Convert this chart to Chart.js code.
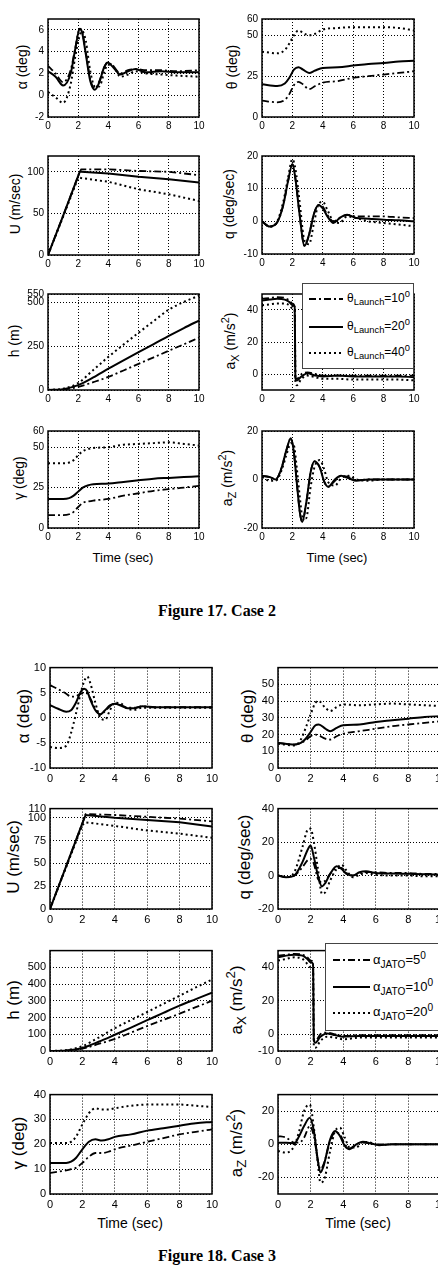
<!DOCTYPE html>
<html>
<head>
<meta charset="utf-8">
<title>Figure 17. Case 2 / Figure 18. Case 3</title>
<script src="https://cdn.jsdelivr.net/npm/chart.js@4.4.1/dist/chart.umd.min.js"></script>
<style>
  html, body { margin: 0; padding: 0; background: #fff; }
  #page { position: relative; width: 438px; height: 1284px; overflow: hidden;
          font-family: "Liberation Sans", Arial, sans-serif; font-weight: normal; color: #000; }
  #page canvas { position: absolute; }
  .ytitle { position: absolute; transform: translate(-50%, -50%) rotate(-90deg); white-space: nowrap; line-height: 1; }
  .xtitle { position: absolute; transform: translate(-50%, -50%); white-space: nowrap; line-height: 1; }
  .f17 { font-size: 14px; }
  .f18 { font-size: 17px; }
  .caption { position: absolute; transform: translate(-50%, -50%); white-space: nowrap;
             font-family: "Liberation Serif", "Times New Roman", serif; font-weight: bold; font-size: 16px; }
  .legend { position: absolute; background: #fff; border: 1px solid #444; z-index: 2; }
  .legend svg { position: absolute; }
  .legend span { position: absolute; white-space: nowrap; line-height: 1; }
  sub, sup { line-height: 0; font-size: 78%; }
</style>
</head>
<body>
<div id="page">
  <!-- figure 17 axis titles -->
  <div class="ytitle f17" style="left:22px;top:67px">α (deg)</div>
  <div class="ytitle f17" style="left:232px;top:67px">θ (deg)</div>
  <div class="ytitle f17" style="left:15px;top:204px">U (m/sec)</div>
  <div class="ytitle f17" style="left:229px;top:204px">q (deg/sec)</div>
  <div class="ytitle f17" style="left:14px;top:341px">h (m)</div>
  <div class="ytitle f17" style="left:230px;top:341px">a<sub>X</sub> (m/s<sup>2</sup>)</div>
  <div class="ytitle f17" style="left:19px;top:478px">γ (deg)</div>
  <div class="ytitle f17" style="left:227px;top:478px">a<sub>Z</sub> (m/s<sup>2</sup>)</div>
  <div class="xtitle" style="left:123px;top:557px;font-size:13px">Time (sec)</div>
  <div class="xtitle" style="left:337px;top:557px;font-size:13px">Time (sec)</div>
  <div class="caption" style="left:217px;top:611px">Figure 17. Case 2</div>

  <!-- figure 18 axis titles -->
  <div class="ytitle f18" style="left:23px;top:716px">α (deg)</div>
  <div class="ytitle f18" style="left:247px;top:716px">θ (deg)</div>
  <div class="ytitle f18" style="left:13px;top:857px">U (m/sec)</div>
  <div class="ytitle f18" style="left:244px;top:857px">q (deg/sec)</div>
  <div class="ytitle f18" style="left:13px;top:1000px">h (m)</div>
  <div class="ytitle f18" style="left:236px;top:1000px">a<sub>X</sub> (m/s<sup>2</sup>)</div>
  <div class="ytitle f18" style="left:18px;top:1143px">γ (deg)</div>
  <div class="ytitle f18" style="left:236px;top:1143px">a<sub>Z</sub> (m/s<sup>2</sup>)</div>
  <div class="xtitle" style="left:130px;top:1223px;font-size:14px">Time (sec)</div>
  <div class="xtitle" style="left:358px;top:1223px;font-size:14px">Time (sec)</div>
  <div class="caption" style="left:217px;top:1256px">Figure 18. Case 3</div>
</div>

<script>
"use strict";

// shared time axis ticks (sec)
const timeTicks = [0, 2, 4, 6, 8, 10];

// ---------- Figure 17: theta_Launch = 10 / 20 / 40 deg (A dash-dot, B solid, C dotted)
const f17LegendVals = [10, 20, 40];

const f17AlphaT = [0, 0.5, 1, 1.5, 1.8, 2.1, 2.25, 2.5, 2.8, 3.1, 3.4, 3.7, 3.95, 4.3, 4.8, 5.3, 5.8, 6.5, 7.5, 8.5, 10];
const f17AlphaA = [2.7, 2.0, 1.2, 2.3, 4.3, 6.1, 5.9, 4.0, 1.5, 0.6, 1.3, 2.5, 3.0, 2.7, 2.0, 2.3, 2.4, 2.3, 2.3, 2.2, 2.3];
const f17AlphaB = [2.2, 1.7, 0.9, 2.0, 4.2, 6.1, 5.8, 3.8, 1.3, 0.5, 1.2, 2.5, 3.0, 2.6, 1.9, 2.2, 2.4, 2.1, 2.2, 2.1, 2.1];
const f17AlphaC = [0.3, -0.2, -0.7, 1.0, 3.5, 5.5, 5.9, 5.0, 2.2, 0.8, 0.8, 2.0, 2.8, 2.7, 1.7, 1.9, 2.2, 2.0, 1.9, 1.8, 1.7];
const f17AlphaTicks = [-2, 0, 2, 4, 6];

const f17ThetaT = [0, 1, 1.5, 1.8, 2.1, 2.4, 2.7, 3.1, 3.5, 4, 5, 6, 7, 8, 9, 10];
const f17ThetaA = [10, 9, 10.5, 14, 19.5, 21.5, 20, 17, 19, 21, 22, 24, 25, 26, 27, 28];
const f17ThetaB = [20, 19, 20.5, 24, 29, 30.5, 29, 27, 28.5, 30, 30.5, 31.5, 32.5, 33, 34, 34.5];
const f17ThetaC = [40, 39, 41, 45, 50, 53, 51.5, 50, 51, 53.5, 54.5, 55, 55, 55, 54.5, 53];
const f17ThetaTicks = [0, 25, 50, 60];

const f17UT = [0, 1, 2, 2.1, 2.2, 4, 6, 8, 10];
const f17UA = [0, 47, 95, 100, 103, 103, 101, 100, 96];
const f17UB = [0, 47, 95, 100, 100, 98, 94, 91, 87];
const f17UC = [0, 46, 93, 93, 92.5, 88, 79, 73, 65];
const f17UTicks = [0, 50, 100];

const f17QT = [0, 0.5, 1, 1.4, 1.7, 2.0, 2.2, 2.45, 2.8, 3.1, 3.4, 3.7, 4.0, 4.3, 4.7, 5.1, 5.6, 6.2, 7, 8, 9, 10];
const f17QA = [0, -1.6, -0.3, 5, 12, 17.5, 13, 3, -7.5, -4, 2, 5, 4.5, 2, 0, 1, 2, 1.5, 1.5, 1.5, 1.2, 1];
const f17QB = [0, -1.6, -0.3, 5, 12, 17.5, 13, 3, -7.5, -4, 2, 5, 4, 1.5, -0.5, 1, 2, 1, 0.8, 0.5, 0.3, 0];
const f17QC = [0, -1.6, 0, 6, 13, 19, 16, 7, -6, -7, -1, 5, 6, 3.5, 0, -0.5, 1.5, 1, 0, -0.5, -1, -1.5];
const f17QTicks = [-10, 0, 10, 20];

const f17HT = [0, 1, 2, 3, 4, 5, 6, 7, 8, 9, 10];
const f17HA = [0, 3, 18, 45, 75, 112, 150, 187, 225, 262, 300];
const f17HB = [0, 5, 28, 72, 122, 170, 217, 263, 310, 355, 398];
const f17HC = [0, 8, 40, 115, 190, 260, 328, 395, 460, 505, 540];
const f17HTicks = [0, 250, 500, 550];

const f17AxT = [0, 0.5, 1, 1.5, 1.8, 2.0, 2.15, 2.2, 2.3, 2.6, 3.0, 3.5, 4, 5, 6, 7, 8, 9, 10];
const f17AxA = [47, 47.5, 48, 47.5, 46, 44, 42, -2, -3, 0, 1, 0, -1, -1, -1, -1, -1, -1, -1];
const f17AxB = [46, 46.5, 47, 46.5, 45, 43, 42, -3, -4, -1.5, 0.5, -1, -1.5, -1, -1.5, -1.5, -1.5, -1.5, -2];
const f17AxC = [43, 43.5, 44, 44, 43, 41, 40, -5, -7, -3, -1, -2, -3, -3, -3.5, -3.5, -3.5, -3.5, -4];
const f17AxTicks = [0, 20, 40];

const f17GammaT = [0, 1, 1.4, 1.7, 2, 2.3, 2.7, 3, 4, 5, 6, 7, 8, 9, 10];
const f17GammaA = [8, 8, 8.5, 10, 13, 15.5, 16.5, 17, 18, 20, 21.5, 23, 24, 25, 26];
const f17GammaB = [18, 18, 18.5, 20, 22.5, 25, 26.5, 27, 27.5, 28.5, 29.5, 30.5, 31, 31.5, 32];
const f17GammaC = [40, 40, 40.5, 42, 45, 47.5, 49, 49.5, 50, 51.5, 52, 52.5, 53, 52, 51];
const f17GammaTicks = [0, 25, 50, 60];

const f17AzT = [0, 0.5, 0.9, 1.3, 1.6, 1.9, 2.1, 2.3, 2.5, 2.65, 2.9, 3.2, 3.45, 3.8, 4.1, 4.35, 4.8, 5.2, 5.7, 6.2, 7, 8, 9, 10];
const f17AzA = [1.5, 1, 0.2, 5, 12, 17, 11, -2, -14, -17.5, -10, 3, 7.5, 5, -1, -3, -0.5, 1.5, 1, -0.3, 0, 0, 0, 0];
const f17AzB = [1.5, 1, 0, 5, 12, 17, 11, -2, -14, -17.5, -10, 3, 7.5, 5, -1, -3, 0, 1.5, 0.5, -0.5, 0, 0, 0, 0];
const f17AzC = [1, -0.5, -0.5, 4, 10, 15, 14, 4, -8, -15, -16, -3, 5, 8, 4, -1, -2.5, 0.5, 1.5, 0, -0.5, 0, 0, 0];
const f17AzTicks = [-20, 0, 20];

// ---------- Figure 18: alpha_JATO = 5 / 10 / 20 deg (A dash-dot, B solid, C dotted)
const f18LegendVals = [5, 10, 20];

const f18AlphaT = [0, 0.5, 1, 1.3, 1.6, 1.9, 2.1, 2.3, 2.5, 2.8, 3.1, 3.4, 3.7, 4.0, 4.4, 4.8, 5.2, 5.7, 6.5, 8, 10];
const f18AlphaA = [6.5, 5.7, 4.8, 4.2, 4.3, 4.8, 5.0, 4.8, 3.8, 1.8, 0.6, 1.3, 2.3, 2.8, 2.5, 2.0, 2.0, 2.3, 2.1, 2.1, 2.1];
const f18AlphaB = [2.5, 1.8, 1.2, 1.5, 3.0, 5.2, 5.8, 5.3, 3.5, 1.5, 0.7, 1.5, 2.5, 2.8, 2.4, 1.9, 1.9, 2.3, 2.1, 2.1, 2.1];
const f18AlphaC = [-5.8, -6.0, -5.6, -3.0, 0.8, 5.0, 7.2, 8.2, 6.8, 3.0, 0.0, -0.4, 1.5, 3.0, 2.8, 1.8, 1.6, 2.0, 2.0, 2.0, 2.0];
const f18AlphaTicks = [-10, -5, 0, 5, 10];

const f18ThetaT = [0, 1, 1.4, 1.7, 2.0, 2.3, 2.5, 2.9, 3.2, 3.6, 4, 5, 6, 7, 8, 9, 10];
const f18ThetaA = [15, 14, 15, 16.5, 19, 20, 19.5, 17.5, 17, 19, 20.5, 22, 23.5, 25, 26, 27, 28];
const f18ThetaB = [15, 14, 15, 17.5, 21.5, 25.5, 26, 23.5, 22, 24, 25.5, 26, 27.5, 28.5, 29.5, 30.5, 31];
const f18ThetaC = [14.5, 13.5, 17, 24, 32, 39, 40, 36, 34, 36.5, 38, 37.5, 38, 38.5, 38, 37.5, 37];
const f18ThetaTicks = [0, 10, 20, 30, 40, 50];

const f18UT = [0, 1, 2, 2.2, 4, 6, 8, 10];
const f18UA = [0, 47, 94, 104, 103, 101, 99, 96];
const f18UB = [0, 47, 94, 103, 100, 97.5, 95, 90.5];
const f18UC = [0, 46, 92, 95, 91, 86, 82.5, 78];
const f18UTicks = [0, 25, 50, 75, 100, 110];

const f18QT = [0, 0.5, 1, 1.5, 1.8, 2.0, 2.2, 2.45, 2.7, 2.9, 3.2, 3.6, 3.9, 4.2, 4.6, 5.0, 5.4, 6, 7, 8, 9, 10];
const f18QA = [0, -1, 0, 5, 9, 10, 7, -2, -4, -3, 1, 4.5, 4.5, 1.5, 0, 1.5, 2, 2, 1.5, 1.5, 1, 1];
const f18QB = [0, -1, 0, 8, 15, 18, 11, 0, -6.5, -4.5, 1, 5.5, 4, 1, 0, 2, 2.5, 1.5, 1.2, 1, 0.8, 0.5];
const f18QC = [0, -1, 2, 17, 27, 28, 20, 4, -11, -10, -3, 4, 6.5, 3, -1, 0.5, 1.5, 0.5, 0, 0, -0.5, -0.5];
const f18QTicks = [-20, 0, 20, 40];

const f18HT = [0, 1, 2, 3, 4, 5, 6, 7, 8, 9, 10];
const f18HA = [0, 2, 14, 42, 72, 110, 149, 186, 223, 262, 300];
const f18HB = [0, 3, 18, 55, 97, 140, 184, 228, 271, 310, 349];
const f18HC = [0, 5, 29, 80, 136, 185, 233, 282, 330, 380, 427];
const f18HTicks = [0, 100, 200, 300, 400, 500];

const f18AxT = [0, 0.5, 1, 1.5, 1.8, 2.0, 2.15, 2.2, 2.3, 2.6, 3, 3.5, 4, 5, 6, 7, 8, 9, 10];
const f18AxA = [47, 47.5, 48, 47.5, 46, 44, 43, -3, -4, 0, 1, 0, -1, -0.5, -0.5, -0.5, -0.5, -0.5, -0.5];
const f18AxB = [46, 47, 47.5, 47, 45, 43, 42, -4, -5, -1.5, 0.5, -0.5, -1.5, -1, -1, -1, -1, -1, -1];
const f18AxC = [44, 45, 46, 45, 42, 40, 40, -7, -8, -4, -1.5, -2, -3, -2, -2, -2, -2, -2, -2];
const f18AxTicks = [-10, 0, 20, 40];

const f18GammaT = [0, 1, 1.3, 1.6, 2, 2.4, 2.8, 3.2, 3.6, 4, 5, 6, 7, 8, 9, 10];
const f18GammaA = [8.5, 9.5, 10, 10.5, 12.5, 15, 16.5, 16.5, 17, 18, 19.5, 21, 22.5, 24, 25, 26];
const f18GammaB = [12.5, 12.5, 13, 14.5, 18, 21, 22, 21.5, 22, 23, 24, 25.5, 26.5, 27.5, 28.5, 29];
const f18GammaC = [20.5, 20.5, 21, 23, 28, 32.5, 34.5, 34, 34, 34.5, 35.5, 36, 36, 36, 35.5, 35];
const f18GammaTicks = [0, 10, 20, 30, 40];

const f18AzT = [0, 0.5, 1, 1.3, 1.6, 1.95, 2.2, 2.45, 2.6, 2.8, 3.2, 3.5, 3.8, 4.1, 4.4, 4.8, 5.2, 5.7, 6.2, 7, 8, 9, 10];
const f18AzA = [5, 4, 1, 1, 4, 11, 5, -10, -15, -12, 2, 7, 6, 0, -2.5, 0, 1, 0.5, 0, 0, 0, 0, 0];
const f18AzB = [1, 1, 0.5, 5, 11, 16, 8, -10, -17, -13, 3, 8, 5, -1, -3, 0, 1.5, 0.5, -0.5, 0, 0, 0, 0];
const f18AzC = [-4, -5, -1, 8, 20, 24, 10, -12, -23, -22, -4, 8, 10, 4, -2, -2, 1.5, 1, -0.5, 0, 0, 0, 0];
const f18AzTicks = [-20, 0, 20];

// ---------- drawing

// space around the plot box inside each canvas (tick labels live here)
const PAD_L = 42, PAD_T = 8, PAD_R = 12, PAD_B = 24;

// dash-dot, solid, dotted
const lineStyles = [
  { dash: [7, 3, 2, 3], width: 1.8 },
  { dash: [], width: 2 },
  { dash: [2, 3], width: 2 },
];

// matlab-ish closed box round the plot area
const framePlugin = {
  id: "frame",
  afterDraw(chart) {
    const { ctx, chartArea: a } = chart;
    ctx.save();
    ctx.strokeStyle = "#000";
    ctx.lineWidth = 1.5;
    ctx.strokeRect(a.left, a.top, a.right - a.left, a.bottom - a.top);
    ctx.restore();
  },
};

function renderPlot(box, t, series, yMin, yMax, yTicks, fontSize, smooth) {
  const [left, top, right, bottom] = box;
  const w = right - left + PAD_L + PAD_R;
  const h = bottom - top + PAD_T + PAD_B;
  const canvas = document.createElement("canvas");
  canvas.width = w;
  canvas.height = h;
  canvas.style.left = (left - PAD_L) + "px";
  canvas.style.top = (top - PAD_T) + "px";
  document.getElementById("page").appendChild(canvas);

  const tickFont = { family: "'Liberation Sans', Arial, sans-serif", size: fontSize };
  const grid = { color: "#000", lineWidth: 1, drawTicks: false };
  const border = { display: false, dash: [1, 2] };

  return new Chart(canvas.getContext("2d"), {
    type: "line",
    data: {
      datasets: series.map((vals, i) => ({
        data: t.map((x, k) => ({ x: x, y: vals[k] })),
        borderColor: "#000",
        borderWidth: lineStyles[i].width,
        borderDash: lineStyles[i].dash,
        pointRadius: 0,
        fill: false,
        tension: 0,
        cubicInterpolationMode: smooth ? "monotone" : "default",
      })),
    },
    options: {
      responsive: false,
      animation: false,
      layout: { padding: { left: 0, top: PAD_T, right: PAD_R, bottom: 0 } },
      plugins: { legend: { display: false }, tooltip: { enabled: false } },
      scales: {
        x: {
          type: "linear", min: 0, max: 10,
          afterBuildTicks: (ax) => { ax.ticks = timeTicks.map((v) => ({ value: v })); },
          afterFit: (ax) => { ax.height = PAD_B; },
          ticks: { font: tickFont, color: "#000", padding: fontSize > 10 ? 4 : 3,
                   maxRotation: 0, autoSkip: false, callback: (v) => String(v) },
          grid: grid, border: border,
        },
        y: {
          type: "linear", min: yMin, max: yMax,
          afterBuildTicks: (ax) => { ax.ticks = yTicks.map((v) => ({ value: v })); },
          afterFit: (ax) => { ax.width = PAD_L; },
          ticks: { font: tickFont, color: "#000", padding: 4, autoSkip: false,
                   callback: (v) => String(v) },
          grid: grid, border: border,
        },
      },
    },
    plugins: [framePlugin],
  });
}

function renderLegend(pos, sym, sub, vals, fontSize, sample, textLeft, rowYs) {
  const [left, top, width, height] = pos;
  const box = document.createElement("div");
  box.className = "legend";
  box.style.cssText += `left:${left}px;top:${top}px;width:${width}px;height:${height}px;`;
  vals.forEach((v, i) => {
    const st = lineStyles[i];
    const svgNS = "http://www.w3.org/2000/svg";
    const svg = document.createElementNS(svgNS, "svg");
    svg.setAttribute("width", sample[1] - sample[0]);
    svg.setAttribute("height", 6);
    svg.style.left = sample[0] + "px";
    svg.style.top = (rowYs[i] - 3) + "px";
    const ln = document.createElementNS(svgNS, "line");
    ln.setAttribute("x1", 0); ln.setAttribute("x2", sample[1] - sample[0]);
    ln.setAttribute("y1", 3); ln.setAttribute("y2", 3);
    ln.setAttribute("stroke", "#000");
    ln.setAttribute("stroke-width", st.width);
    if (st.dash.length) ln.setAttribute("stroke-dasharray", st.dash.join(","));
    svg.appendChild(ln);
    box.appendChild(svg);

    const txt = document.createElement("span");
    txt.style.left = textLeft + "px";
    txt.style.top = (rowYs[i] - fontSize * 0.55) + "px";
    txt.style.fontSize = fontSize + "px";
    txt.innerHTML = `${sym}<sub>${sub}</sub>=${v}<sup>0</sup>`;
    box.appendChild(txt);
  });
  document.getElementById("page").appendChild(box);
}

// figure 17 : plot boxes [left, top, right, bottom]
const L17 = [48, 199], R17 = [262, 414];
renderPlot([L17[0], 17, L17[1], 117], f17AlphaT, [f17AlphaA, f17AlphaB, f17AlphaC], -2, 7, f17AlphaTicks, 10, true);
renderPlot([R17[0], 17, R17[1], 117], f17ThetaT, [f17ThetaA, f17ThetaB, f17ThetaC], 0, 60, f17ThetaTicks, 10, true);
renderPlot([L17[0], 154, L17[1], 255], f17UT, [f17UA, f17UB, f17UC], 0, 119, f17UTicks, 10, false);
renderPlot([R17[0], 154, R17[1], 254], f17QT, [f17QA, f17QB, f17QC], -10, 20, f17QTicks, 10, true);
renderPlot([L17[0], 292, L17[1], 390], f17HT, [f17HA, f17HB, f17HC], 0, 550, f17HTicks, 10, true);
renderPlot([R17[0], 292, R17[1], 390], f17AxT, [f17AxA, f17AxB, f17AxC], -10, 50, f17AxTicks, 10, true);
renderPlot([L17[0], 429, L17[1], 528], f17GammaT, [f17GammaA, f17GammaB, f17GammaC], 0, 60, f17GammaTicks, 10, true);
renderPlot([R17[0], 429, R17[1], 528], f17AzT, [f17AzA, f17AzB, f17AzC], -20, 20, f17AzTicks, 10, true);
renderLegend([302, 283, 110, 84], "θ", "Launch", f17LegendVals, 12, [6, 40], 44, [15, 42.5, 68.5]);

// figure 18
const L18 = [50, 212], R18 = [278, 441];
renderPlot([L18[0], 665, L18[1], 768], f18AlphaT, [f18AlphaA, f18AlphaB, f18AlphaC], -10, 10, f18AlphaTicks, 11, true);
renderPlot([R18[0], 665, R18[1], 768], f18ThetaT, [f18ThetaA, f18ThetaB, f18ThetaC], 0, 60, f18ThetaTicks, 11, true);
renderPlot([L18[0], 806, L18[1], 909], f18UT, [f18UA, f18UB, f18UC], 0, 110, f18UTicks, 11, false);
renderPlot([R18[0], 806, R18[1], 909], f18QT, [f18QA, f18QB, f18QC], -20, 40, f18QTicks, 11, true);
renderPlot([L18[0], 948, L18[1], 1051], f18HT, [f18HA, f18HB, f18HC], 0, 600, f18HTicks, 11, true);
renderPlot([R18[0], 948, R18[1], 1051], f18AxT, [f18AxA, f18AxB, f18AxC], -10, 50, f18AxTicks, 11, true);
renderPlot([L18[0], 1092, L18[1], 1194], f18GammaT, [f18GammaA, f18GammaB, f18GammaC], 0, 40, f18GammaTicks, 11, true);
renderPlot([R18[0], 1092, R18[1], 1194], f18AzT, [f18AzA, f18AzB, f18AzC], -30, 30, f18AzTicks, 11, true);
renderLegend([325, 943, 125, 86], "α", "JATO", f18LegendVals, 13, [7, 44], 47, [16, 43, 68.5]);
</script>
</body>
</html>
